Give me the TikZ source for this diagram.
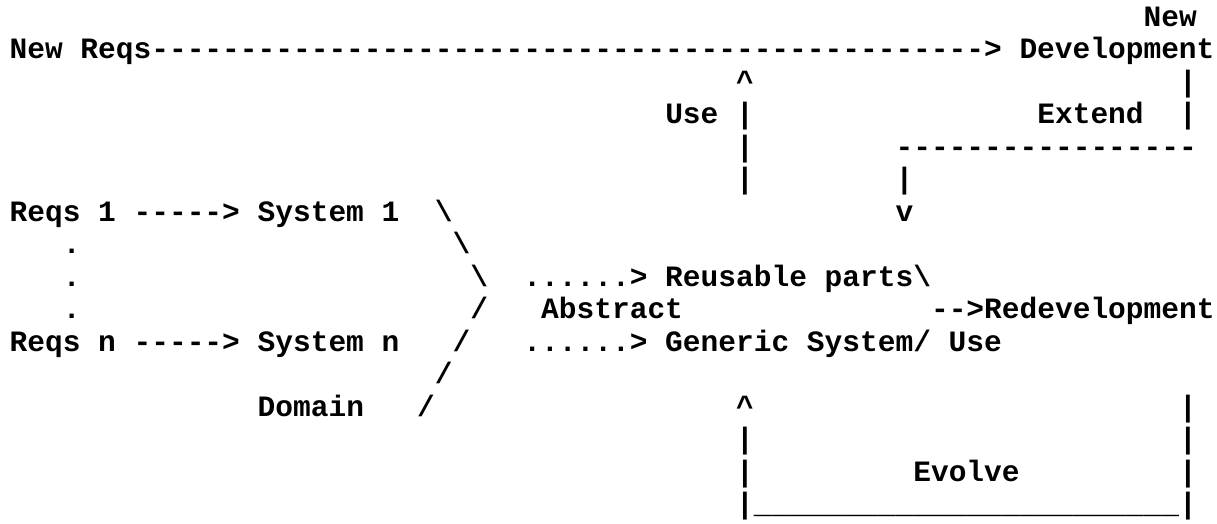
\documentclass[tikz,border=0pt]{standalone}
\usepackage{fontspec}
\setmonofont{Liberation Mono}
\tikzset{
  txt/.style={anchor=base west, inner sep=0pt, outer sep=0pt,
    font=\ttfamily\bfseries\fontsize{29.53}{32.5}\selectfont}
}
% one character cell of the text grid: name, column, row, text
\newcommand\putcell[4]{\node[txt] (#1) at (#2,#3) {#4};}
\begin{document}
\begin{tikzpicture}[x=17.72pt, y=-32.5pt]
\path[use as bounding box, fill=white] (0pt,0pt) rectangle (1217pt,-523pt);
\begin{scope}[shift={(9.6pt,-26pt)}]
  % top row: new requirements go straight to new development
  \putcell{newtop}{64}{0}{New}
  \putcell{newreqs}{0}{1}{New Reqs-----------------------------------------------> Development}
  \putcell{useup}{41}{2}{\textasciicircum}
  \putcell{extbarA}{66}{2}{|}
  \putcell{uselbl}{37}{3}{Use}
  \putcell{usebarA}{41}{3}{|}
  \putcell{extlbl}{58}{3}{Extend}
  \putcell{extbarB}{66}{3}{|}
  \putcell{usebarB}{41}{4}{|}
  \putcell{extline}{50}{4}{-----------------}
  \putcell{usebarC}{41}{5}{|}
  \putcell{extdown}{50}{5}{|}
  % existing systems of the domain
  \putcell{reqsone}{0}{6}{Reqs 1 -----> System 1}
  \putcell{domA}{24}{6}{\textbackslash}
  \putcell{extarrow}{50}{6}{v}
  \putcell{dotA}{3}{7}{.}
  \putcell{domB}{25}{7}{\textbackslash}
  \putcell{dotB}{3}{8}{.}
  \putcell{domC}{26}{8}{\textbackslash}
  \putcell{reusable}{29}{8}{......> Reusable parts\textbackslash}
  \putcell{dotC}{3}{9}{.}
  \putcell{domD}{26}{9}{/}
  \putcell{abstract}{30}{9}{Abstract}
  \putcell{redev}{52}{9}{-->Redevelopment}
  \putcell{reqsn}{0}{10}{Reqs n -----> System n}
  \putcell{domE}{25}{10}{/}
  \putcell{generic}{29}{10}{......> Generic System/ Use}
  \putcell{domF}{24}{11}{/}
  \putcell{domain}{14}{12}{Domain}
  \putcell{domG}{23}{12}{/}
  % evolve loop below the generic system
  \putcell{evup}{41}{12}{\textasciicircum}
  \putcell{evbarA}{66}{12}{|}
  \putcell{evbarB}{41}{13}{|}
  \putcell{evbarC}{66}{13}{|}
  \putcell{evbarD}{41}{14}{|}
  \putcell{evlbl}{51}{14}{Evolve}
  \putcell{evbarE}{66}{14}{|}
  \putcell{evbottom}{41}{15}{|\_\_\_\_\_\_\_\_\_\_\_\_\_\_\_\_\_\_\_\_\_\_\_\_|}
\end{scope}
\end{tikzpicture}
\end{document}
